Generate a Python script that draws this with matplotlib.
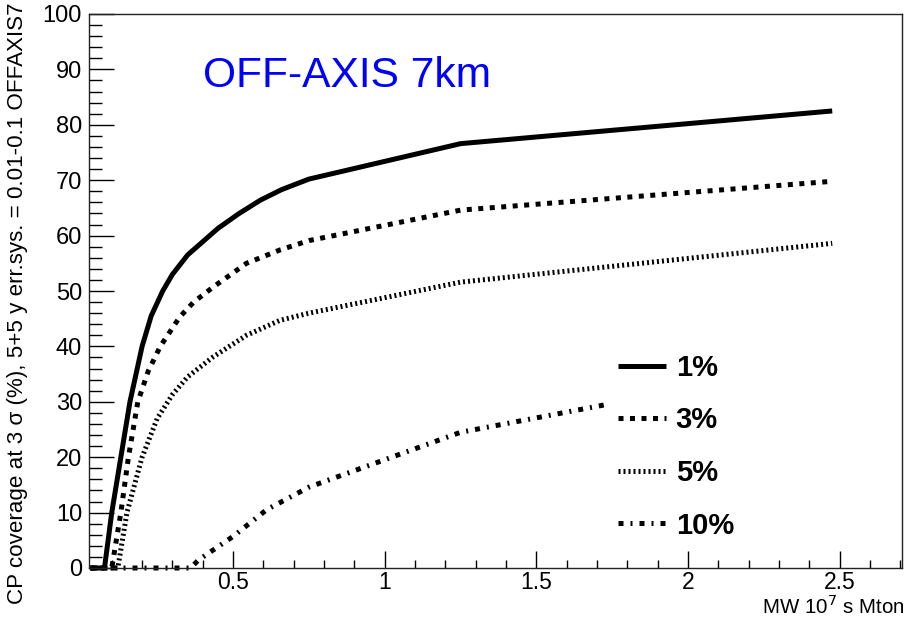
# CP coverage vs exposure, OFF-AXIS 7km
import matplotlib
matplotlib.use("Agg")
import matplotlib.pyplot as plt
from matplotlib.ticker import MultipleLocator

plt.rcParams['font.family'] = ['Liberation Sans', 'DejaVu Sans']

x_1pc = [0.03, 0.076, 0.1, 0.13, 0.16, 0.2, 0.23, 0.268, 0.3, 0.35, 0.45, 0.52, 0.59, 0.66, 0.75, 1.25, 2.475]
y_1pc = [0, 0, 10, 20, 30, 40, 45.5, 50, 53, 56.5, 61.3, 64, 66.4, 68.3, 70.2, 76.6, 82.5]

x_3pc = [0.03, 0.1, 0.13, 0.155, 0.186, 0.22, 0.26, 0.324, 0.37, 0.434, 0.544, 0.654, 0.75, 1.25, 2.475]
y_3pc = [0, 0, 10, 20, 30, 35.5, 40, 45.3, 48, 50.7, 55, 57.4, 59.1, 64.6, 69.8]

x_5pc = [0.03, 0.12, 0.15, 0.2, 0.25, 0.3, 0.35, 0.434, 0.544, 0.654, 0.75, 1.25, 2.475]
y_5pc = [0, 0, 10, 20, 27, 31.3, 34.5, 38.1, 42, 44.7, 46, 51.6, 58.6]

x_10pc = [0.03, 0.36, 0.385, 0.5, 0.61, 0.75, 1.25, 1.73]
y_10pc = [0, 0, 1.4, 5.7, 10.5, 14.6, 24.5, 29.5]

labels = ['1%', '3%', '5%', '10%']

fig = plt.figure(figsize=(9.16, 6.18), dpi=100)
ax = fig.add_axes([89 / 916, 1 - 568 / 618, 813 / 916, 554 / 618])

lw = 3.6  # ~5 px
styles = ['-', (0, (1.0, 1.3)), (0, (0.4, 0.6)), (0, (1.0, 1.4, 0.4, 1.4))]
series = [(x_1pc, y_1pc), (x_3pc, y_3pc), (x_5pc, y_5pc), (x_10pc, y_10pc)]
for (xs, ys), ls, lab in zip(series, styles, labels):
    ax.plot(xs, ys, color='black', lw=lw, linestyle=ls, label=lab,
            clip_on=False, dash_capstyle='butt', solid_capstyle='butt')

ax.set_xlim(0.025, 2.705)
ax.set_ylim(0, 100)

ax.xaxis.set_major_locator(MultipleLocator(0.5))
ax.xaxis.set_minor_locator(MultipleLocator(0.1))
ax.yaxis.set_major_locator(MultipleLocator(10))
ax.yaxis.set_minor_locator(MultipleLocator(2))
ax.set_xticks([0.5, 1, 1.5, 2, 2.5])
ax.set_xticklabels(['0.5', '1', '1.5', '2', '2.5'])

ax.tick_params(axis='both', which='both', direction='in', top=False, right=False,
               labelsize=17, width=1, color='black')
ax.tick_params(axis='y', which='major', length=18, pad=5)
ax.tick_params(axis='y', which='minor', length=9.4)
ax.tick_params(axis='x', which='major', length=12, pad=2.5, labelsize=16.5)
ax.tick_params(axis='x', which='minor', length=6)
for sp in ax.spines.values():
    sp.set_linewidth(1)
    sp.set_color('#222222')

fig.text(18 / 916, 1 - 3 / 618,
         'CP coverage at 3 σ (%), 5+5 y err.sys. = 0.01-0.1 OFFAXIS7',
         rotation=90, ha='center', va='top', fontsize=16.1)
fig.text(905 / 916, 1 - 614 / 618, 'MW 10$^7$ s Mton',
         ha='right', va='baseline', fontsize=14.8)

ax.text(203 / 916, 1 - 87 / 618, 'OFF-AXIS 7km', transform=fig.transFigure,
        color='#0000ff', fontsize=30.6, ha='left', va='baseline')

leg = ax.legend(loc='upper left', bbox_to_anchor=(618 / 916, 1 - 354 / 618),
                bbox_transform=fig.transFigure, frameon=False,
                prop={'weight': 'bold', 'size': 21}, handlelength=1.64,
                handletextpad=0.34, labelspacing=0.84, borderaxespad=0,
                borderpad=0)

fig.savefig('out.png', dpi=100)
